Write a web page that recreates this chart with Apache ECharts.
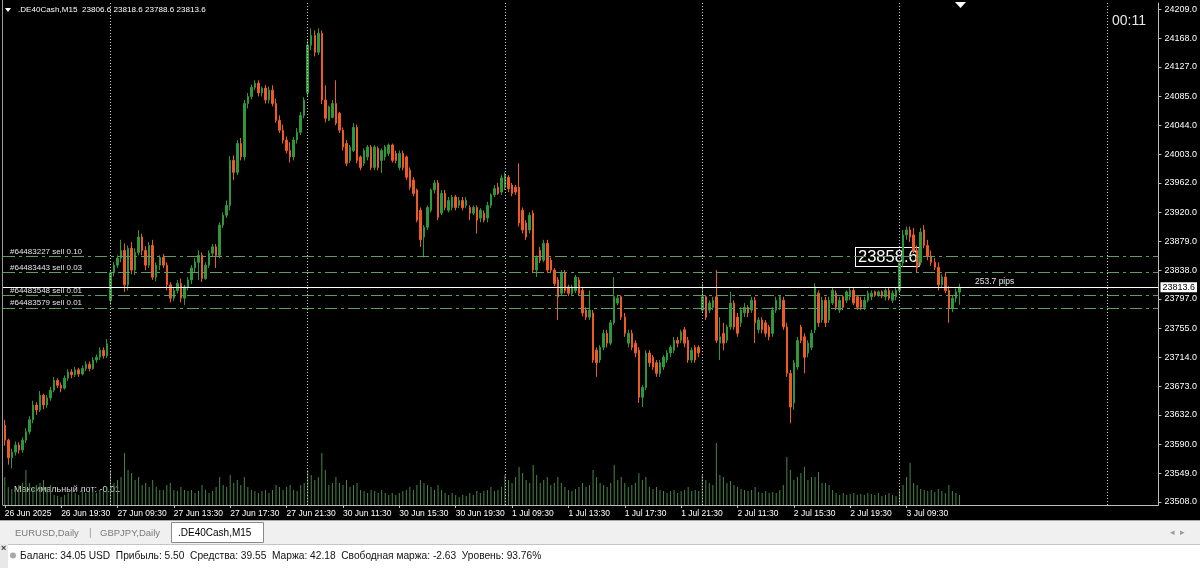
<!DOCTYPE html>
<html><head><meta charset="utf-8">
<script src="https://cdn.jsdelivr.net/npm/echarts@6/dist/echarts.min.js"></script>
<style>html,body{margin:0;padding:0;background:#000;}#c{width:1200px;height:568px;}</style>
</head><body><div id="c"></div>
<script>
// ---------- DATA ----------
const timeLabels = ['26 Jun 2025','26 Jun 19:30','27 Jun 09:30','27 Jun 13:30','27 Jun 17:30','27 Jun 21:30','30 Jun 11:30','30 Jun 15:30','30 Jun 19:30','1 Jul 09:30','1 Jul 13:30','1 Jul 17:30','1 Jul 21:30','2 Jul 11:30','2 Jul 15:30','2 Jul 19:30','3 Jul 09:30'];
const priceTicks = [24209,24168,24127,24085,24044,24003,23962,23920,23879,23838,23797,23755,23714,23673,23632,23590,23549,23508];
const daySeparators = [30,86,142,198,254,313];
const totalSlots = 328;
const labelEvery = 16;

const opens = [
23617,23596,23571,23579,23589,23582,23596,23608,23625,23646,23639,23660,23646,23656,23667,23681,23674,23670,23684,23693,23689,23696,23690,23698,23704,23698,23710,23714,23724,23716,
23795,23834,23845,23855,23866,23817,23869,23838,23863,23885,23866,23845,23873,23828,23845,23856,23845,23817,23798,23809,23819,23798,23814,23824,23841,23849,23859,23826,23845,23862,23871,23859,23902,23916,23930,23994,23977,24018,23999,24075,24085,24098,24104,24090,24097,24080,24094,24075,24051,24037,24023,24008,23999,24023,24034,24058,
24090,24158,24172,24148,24175,24080,24051,24055,24075,24061,24037,24018,23994,24008,24041,23999,23990,23999,24013,23984,24011,23994,23999,24004,24016,24004,23984,24004,23999,23980,23966,23952,23923,23885,23899,23923,23952,23962,23919,23947,23923,23927,23942,23930,23937,23930,23927,23919,23927,23912,23919,23912,23930,23945,23956,23949,
23956,23970,23959,23956,23956,23923,23905,23895,23919,23838,23866,23852,23876,23852,23838,23824,23805,23834,23814,23805,23809,23824,23809,23781,23771,23777,23724,23710,23728,23748,23734,23763,23791,23800,23771,23734,23748,23734,23724,23657,23671,23720,23714,23706,23691,23700,23710,23720,23724,23738,23738,23753,23738,23710,23728,23728,
23781,23800,23781,23785,23800,23734,23748,23738,23757,23791,23771,23763,23777,23785,23781,23795,23753,23767,23763,23757,23748,23781,23785,23795,23757,23691,23649,23700,23757,23743,23720,23728,23753,23805,23767,23795,23767,23791,23805,23781,23800,23795,23800,23809,23800,23795,23785,23795,23800,23807,23802,23807,23800,23809,23795,23800,
23809,23848,23888,23895,23888,23866,23849,23895,23873,23858,23849,23842,23817,23828,23809,23784,23798,23806.6];
const closes = [
23596,23571,23579,23589,23582,23596,23608,23625,23646,23639,23660,23646,23656,23667,23681,23674,23670,23684,23693,23689,23696,23690,23698,23704,23698,23710,23714,23724,23716,23733,
23834,23845,23855,23866,23817,23869,23838,23863,23885,23866,23845,23873,23828,23845,23856,23845,23817,23798,23809,23819,23798,23814,23824,23841,23849,23859,23826,23845,23862,23871,23859,23902,23916,23930,23994,23977,24018,23999,24075,24085,24098,24104,24090,24097,24080,24094,24075,24051,24037,24023,24008,23999,24023,24034,24058,24080,
24158,24172,24148,24175,24080,24054,24070,24075,24047,24037,24013,23990,24013,24041,23994,23984,24008,24013,23984,24013,23984,24008,24013,24016,23994,23994,24004,23984,23970,23956,23947,23909,23881,23899,23927,23952,23962,23913,23947,23927,23937,23942,23927,23937,23927,23937,23919,23927,23909,23923,23909,23930,23945,23954,23947,23969,
23973,23954,23947,23949,23905,23895,23885,23916,23838,23856,23852,23876,23838,23838,23819,23800,23834,23809,23805,23814,23828,23805,23777,23771,23781,23710,23706,23728,23748,23734,23763,23800,23798,23771,23748,23748,23728,23720,23657,23671,23720,23706,23700,23691,23706,23714,23720,23728,23738,23734,23750,23734,23710,23724,23710,23720,
23800,23771,23791,23795,23738,23743,23734,23757,23791,23757,23748,23781,23785,23777,23795,23763,23767,23753,23748,23743,23781,23795,23800,23757,23691,23643,23706,23738,23738,23714,23734,23748,23814,23763,23795,23763,23795,23809,23785,23795,23785,23807,23809,23791,23785,23785,23795,23805,23805,23802,23807,23801,23809,23798,23805,23809,
23848,23888,23895,23885,23866,23841,23892,23873,23858,23849,23842,23817,23828,23809,23784,23798,23807,23813.6];
const highs = [
23625,23598,23584,23594,23593,23600,23613,23630,23652,23650,23666,23662,23660,23672,23686,23684,23678,23688,23697,23697,23700,23699,23702,23708,23708,23714,23718,23728,23728,23740,
23838,23849,23859,23881,23876,23873,23878,23869,23895,23890,23872,23878,23881,23849,23859,23861,23849,23821,23814,23824,23826,23817,23828,23845,23855,23866,23863,23849,23866,23875,23875,23906,23920,23937,24000,24001,24023,24026,24080,24090,24102,24108,24108,24099,24101,24099,24101,24082,24058,24045,24028,24020,24027,24040,24063,24084,
24165,24182,24179,24182,24179,24101,24072,24080,24108,24063,24041,24023,24016,24047,24045,24001,24011,24016,24016,24016,24014,24011,24016,24018,24018,24008,24008,24008,24001,23984,23970,23954,23927,23902,23930,23954,23966,23966,23952,23952,23942,23945,23945,23942,23942,23942,23930,23930,23930,23926,23923,23935,23947,23959,23962,23973,
23977,23973,23962,23959,23990,23927,23909,23920,23923,23859,23871,23881,23881,23856,23841,23828,23838,23838,23817,23817,23831,23828,23814,23785,23809,23781,23728,23731,23753,23753,23767,23828,23802,23802,23777,23753,23753,23738,23728,23674,23724,23724,23717,23710,23710,23717,23724,23731,23743,23743,23753,23757,23743,23728,23731,23731,
23819,23802,23795,23800,23838,23771,23763,23760,23807,23795,23777,23785,23791,23788,23800,23800,23771,23771,23767,23760,23785,23800,23802,23800,23763,23696,23710,23743,23760,23748,23738,23753,23819,23809,23800,23800,23800,23814,23809,23800,23802,23809,23814,23814,23802,23800,23800,23809,23809,23809,23809,23809,23812,23814,23809,23814,
23852,23895,23900,23900,23898,23873,23898,23902,23881,23866,23855,23849,23832,23835,23815,23802,23812,23818.6];
const lows = [
23588,23561,23556,23574,23577,23578,23592,23604,23620,23632,23636,23640,23642,23652,23664,23670,23664,23668,23680,23684,23686,23686,23688,23694,23694,23696,23706,23710,23712,23713,
23788,23829,23841,23849,23807,23809,23832,23831,23859,23859,23838,23841,23824,23822,23838,23841,23809,23792,23794,23805,23792,23788,23809,23818,23835,23824,23821,23824,23841,23858,23841,23855,23898,23912,23923,23966,23973,23994,23994,24068,24081,24094,24085,24085,24075,24075,24071,24048,24033,24018,24004,23991,23994,24018,24030,24054,
24084,24151,24142,24144,24074,24048,24050,24054,24044,24033,24008,23986,23990,24006,23990,23980,23986,23994,23980,23980,23980,23976,23994,24000,23991,23990,23980,23980,23966,23952,23943,23906,23871,23856,23895,23920,23947,23909,23916,23923,23920,23923,23923,23926,23923,23926,23909,23916,23890,23906,23906,23906,23926,23942,23945,23945,
23952,23949,23943,23945,23900,23890,23881,23890,23834,23828,23848,23849,23834,23834,23815,23767,23801,23805,23801,23801,23805,23801,23772,23767,23767,23706,23686,23706,23724,23728,23731,23760,23788,23767,23743,23728,23724,23714,23649,23643,23667,23700,23696,23686,23686,23696,23706,23714,23720,23728,23734,23728,23706,23706,23706,23714,
23777,23767,23777,23781,23734,23710,23724,23734,23753,23753,23743,23757,23771,23771,23777,23734,23748,23748,23743,23738,23743,23777,23781,23753,23686,23620,23639,23696,23734,23691,23714,23724,23748,23757,23763,23757,23763,23788,23781,23777,23781,23791,23795,23788,23781,23781,23781,23792,23795,23800,23800,23798,23795,23795,23791,23795,
23805,23842,23881,23878,23862,23834,23845,23869,23852,23844,23838,23809,23812,23805,23763,23778,23792,23788.6];
const volumes = [
28,18,16,15,20,22,35,22,18,20,22,25,18,20,10,9,8,10,12,14,12,10,15,12,14,16,12,15,14,18,
35,22,25,28,52,35,32,25,28,20,22,18,25,18,15,15,20,22,15,14,18,15,14,15,12,14,20,15,12,14,18,28,20,18,30,22,25,20,28,18,15,14,12,14,15,12,15,20,18,15,18,20,15,14,20,22,
35,30,25,28,52,35,20,22,28,22,20,25,18,20,22,15,14,12,15,14,12,15,12,10,12,10,12,14,15,18,15,20,25,22,20,18,15,20,15,12,10,12,10,8,10,9,12,10,14,12,14,15,18,14,15,18,
30,25,22,28,38,32,25,22,40,30,22,25,28,20,22,28,22,18,15,14,16,18,22,18,20,35,28,22,20,18,22,40,25,28,22,18,20,22,32,25,28,18,16,18,15,14,12,14,15,12,14,15,18,14,15,14,
30,25,22,20,62,30,28,22,24,20,18,16,15,14,15,18,13,12,14,12,13,12,15,20,48,35,25,28,32,38,25,28,28,33,22,22,20,15,12,10,12,10,11,12,10,11,10,12,11,10,12,9,10,12,10,9,
15,20,28,42,22,20,16,15,14,15,13,16,14,12,20,14,12,10];
const orderLabels = ['#64483227 sell 0.10','#64483443 sell 0.03','#64483548 sell 0.01','#64483579 sell 0.01'];
const orderPrices = [23857,23834.5,23802,23784];
const bidPrice = 23813.6;
const header = '.DE40Cash,M15  23806.6 23818.6 23788.6 23813.6';

// ---------- BUILD ----------
const FONT = 'Liberation Sans, Arial, sans-serif';
const categories = Array.from({length: totalSlots}, (_, i) => String(i));
const candleData = opens.map((o, i) => [o, closes[i], lows[i], highs[i]]);
const lastLabelIdx = (timeLabels.length - 1) * labelEvery;
const showIdx = (idx) => idx % labelEvery === 0 && idx <= lastLabelIdx;

const orderLines = orderPrices.map((p, k) => ({
  yAxis: p,
  lineStyle: {color: '#5f9a5f', width: 1, type: [12, 4, 3, 4]},
  label: {show: true, position: 'insideStartTop', formatter: orderLabels[k], color: '#e4e4e4',
          fontSize: 8, fontFamily: FONT, distance: [7, 1]}
}));
const sepLines = daySeparators.map(i => ({
  xAxis: i,
  lineStyle: {color: '#cfcfcf', width: 1, type: [1, 2]},
  label: {show: false}
}));
const bidLine = {
  yAxis: bidPrice,
  lineStyle: {color: '#ffffff', width: 1, type: 'solid'},
  label: {show: true, position: 'end', formatter: bidPrice.toFixed(1), color: '#000', backgroundColor: '#fff',
          padding: [1, 2, 0, 2], fontSize: 9, fontFamily: FONT, distance: 2}
};

const chart = echarts.init(document.getElementById('c'), null, {renderer: 'canvas'});
chart.setOption({
  backgroundColor: '#000',
  animation: false,
  grid: {left: 3, right: 40, top: 3, bottom: 63, containLabel: false},
  xAxis: {
    type: 'category', data: categories, boundaryGap: true,
    axisLine: {show: true, lineStyle: {color: '#bdbdbd', width: 1}},
    axisTick: {show: true, length: 3, alignWithLabel: true, interval: (idx) => showIdx(idx), lineStyle: {color: '#bdbdbd'}},
    axisLabel: {show: true, interval: (idx) => showIdx(idx), formatter: (v, idx) => showIdx(idx) ? timeLabels[idx / labelEvery] : '',
                color: '#ffffff', fontSize: 8.5, fontFamily: FONT, align: 'left', margin: 4},
    splitLine: {show: false}
  },
  yAxis: [
    {type: 'value', position: 'right', min: 23503.7, max: 24218, scale: true,
     axisLine: {show: true, lineStyle: {color: '#bdbdbd', width: 1}},
     axisTick: {show: true, length: 3, customValues: priceTicks, lineStyle: {color: '#bdbdbd'}},
     axisLabel: {show: true, customValues: priceTicks, formatter: v => Number(v).toFixed(1), color: '#ffffff', fontSize: 9, fontFamily: FONT, margin: 6},
     splitLine: {show: false}},
    {type: 'value', min: 0, max: 502, show: false, splitLine: {show: false}}
  ],
  series: [
    {type: 'bar', xAxisIndex: 0, yAxisIndex: 1, data: volumes, barWidth: 1, silent: true,
     itemStyle: {color: '#4a844a'}},
    {type: 'candlestick', data: candleData, barWidth: 2, silent: true,
     itemStyle: {color: '#2e9838', color0: '#ec5b24', borderColor: '#2e9838', borderColor0: '#ec5b24', borderWidth: 1},
     markLine: {silent: true, symbol: ['none', 'none'], animation: false, precision: 1,
                data: [...sepLines, ...orderLines, bidLine]}}
  ],
  graphic: [
    {type: 'line', shape: {x1: 2.5, y1: 0, x2: 2.5, y2: 505}, style: {stroke: '#9a9a9a', lineWidth: 1}, silent: true},
    {type: 'polygon', shape: {points: [[5, 8], [11, 8], [8, 12]]}, style: {fill: '#ffffff'}},
    {type: 'text', x: 18, y: 10, style: {text: header, fill: '#ffffff', font: '8.1px ' + FONT, verticalAlign: 'middle'}},
    {type: 'polygon', shape: {points: [[955, 2], [966, 2], [960.5, 8]]}, style: {fill: '#ffffff'}},
    {type: 'text', x: 1112, y: 21, style: {text: '00:11', fill: '#e8e8e8', font: '14px ' + FONT, verticalAlign: 'middle'}},
    {type: 'text', x: 856, y: 257, style: {text: '23858.6', fill: '#ffffff', font: '16.5px ' + FONT, verticalAlign: 'middle',
       backgroundColor: '#000', borderColor: '#ffffff', borderWidth: 1, padding: [1, 1, 0, 2]}},
    {type: 'text', x: 975, y: 282, style: {text: '253.7 pips', fill: '#e6e6e6', font: '8.5px ' + FONT, verticalAlign: 'middle'}},
    {type: 'text', x: 14, y: 490, style: {text: 'Максимальный лот: -0.01', fill: '#d8d8d8', font: '9px ' + FONT, verticalAlign: 'middle'}},
    // tab bar
    {type: 'rect', shape: {x: 0, y: 520, width: 1200, height: 24}, style: {fill: '#f0f0f0'}},
    {type: 'line', shape: {x1: 0, y1: 520.5, x2: 1200, y2: 520.5}, style: {stroke: '#a8a8a8', lineWidth: 1}},
    {type: 'text', x: 15, y: 533, style: {text: 'EURUSD,Daily', fill: '#7a7a7a', font: '9.5px ' + FONT, verticalAlign: 'middle'}},
    {type: 'text', x: 89, y: 533, style: {text: '|', fill: '#9a9a9a', font: '10px ' + FONT, verticalAlign: 'middle'}},
    {type: 'text', x: 100, y: 533, style: {text: 'GBPJPY,Daily', fill: '#7a7a7a', font: '9.5px ' + FONT, verticalAlign: 'middle'}},
    {type: 'rect', shape: {x: 171.5, y: 522.5, width: 92, height: 20}, style: {fill: '#ffffff', stroke: '#8a8a8a', lineWidth: 1}},
    {type: 'text', x: 178, y: 533, style: {text: '.DE40Cash,M15', fill: '#000000', font: '10px ' + FONT, verticalAlign: 'middle'}},
    {type: 'text', x: 1170, y: 533, style: {text: '◂  ▸', fill: '#9a9a9a', font: '9px ' + FONT, verticalAlign: 'middle'}},
    // status bar
    {type: 'rect', shape: {x: 0, y: 544, width: 1200, height: 24}, style: {fill: '#ffffff'}},
    {type: 'line', shape: {x1: 0, y1: 544.5, x2: 1200, y2: 544.5}, style: {stroke: '#c4c4c4', lineWidth: 1}},
    {type: 'rect', shape: {x: 0, y: 544, width: 8, height: 24}, style: {fill: '#e8e8e8'}},
    {type: 'text', x: 1, y: 549, style: {text: '×', fill: '#333', font: 'bold 9px ' + FONT, verticalAlign: 'middle'}},
    {type: 'circle', shape: {cx: 13, cy: 555.5, r: 3}, style: {fill: '#a8a8a8'}},
    {type: 'text', x: 20, y: 556, style: {text: 'Баланс: 34.05 USD  Прибыль: 5.50  Средства: 39.55  Маржа: 42.18  Свободная маржа: -2.63  Уровень: 93.76%', fill: '#111111', font: '10.2px ' + FONT, verticalAlign: 'middle'}}
  ]
});
</script>
</body></html>
